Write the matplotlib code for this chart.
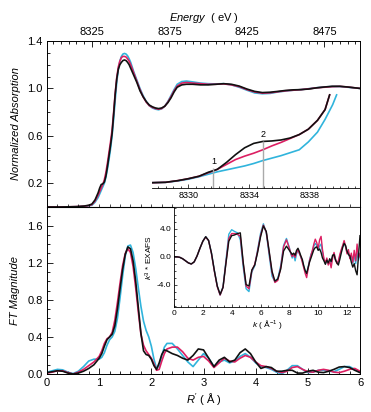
import numpy as np
import matplotlib
matplotlib.use('Agg')
import matplotlib.pyplot as plt
from matplotlib.ticker import MultipleLocator, FormatStrFormatter

plt.rcParams['font.family'] = ['Liberation Sans', 'DejaVu Sans']
plt.rcParams['mathtext.fontset'] = 'custom'
plt.rcParams['mathtext.rm'] = 'Liberation Sans'
plt.rcParams['mathtext.it'] = 'Liberation Sans:italic'

BLACK = '#111111'
PINK = '#dc1f62'
CYAN = '#30b4dc'

# ---- XANES (normalized absorption vs energy) ----
energy = [8296, 8305, 8315, 8320, 8323, 8325, 8327, 8329, 8330, 8331, 8332, 8333, 8334,
          8335, 8336, 8337, 8338, 8339, 8340, 8341, 8342, 8343, 8344, 8345, 8346, 8347,
          8348, 8349, 8350, 8352, 8354, 8356, 8358, 8360, 8362, 8364, 8366, 8368, 8370,
          8372, 8374, 8376, 8378, 8380, 8383, 8386, 8390, 8395, 8400, 8405, 8410, 8415,
          8420, 8425, 8430, 8435, 8440, 8445, 8450, 8455, 8460, 8465, 8470, 8475, 8480,
          8485, 8490, 8498]
xanes_black = [0.0, 0.0, 0.003, 0.008, 0.015, 0.025, 0.06, 0.12, 0.16, 0.19, 0.195, 0.21, 0.26,
               0.34, 0.43, 0.52, 0.62, 0.78, 0.95, 1.08, 1.16, 1.2, 1.22, 1.235, 1.24, 1.235,
               1.22, 1.2, 1.17, 1.11, 1.05, 0.98, 0.93, 0.89, 0.86, 0.845, 0.835, 0.83, 0.835,
               0.85, 0.88, 0.92, 0.97, 1.01, 1.03, 1.035, 1.035, 1.03, 1.03, 1.035, 1.04, 1.035,
               1.02, 0.995, 0.975, 0.965, 0.968, 0.975, 0.983, 0.988, 0.99, 0.995, 1.005, 1.012, 1.018,
               1.018, 1.012, 1.0]
xanes_pink = [0.0, 0.0, 0.003, 0.007, 0.012, 0.02, 0.05, 0.1, 0.13, 0.16, 0.19, 0.23, 0.29,
              0.37, 0.46, 0.55, 0.65, 0.8, 0.96, 1.09, 1.18, 1.23, 1.26, 1.27, 1.27, 1.265,
              1.25, 1.23, 1.2, 1.13, 1.06, 0.99, 0.93, 0.885, 0.855, 0.84, 0.83, 0.825, 0.83,
              0.85, 0.885, 0.93, 0.98, 1.02, 1.045, 1.05, 1.045, 1.04, 1.035, 1.035, 1.038, 1.03,
              1.015, 0.99, 0.97, 0.96, 0.963, 0.972, 0.98, 0.985, 0.99, 0.997, 1.005, 1.01, 1.015,
              1.017, 1.012, 1.0]
xanes_cyan = [0.0, 0.0, 0.002, 0.005, 0.01, 0.015, 0.04, 0.08, 0.11, 0.14, 0.17, 0.2, 0.25,
              0.32, 0.4, 0.49, 0.6, 0.74, 0.9, 1.05, 1.16, 1.23, 1.27, 1.29, 1.295, 1.29,
              1.275, 1.25, 1.22, 1.14, 1.07, 1.0, 0.94, 0.89, 0.855, 0.835, 0.825, 0.82, 0.828,
              0.85, 0.89, 0.94, 0.99, 1.035, 1.058, 1.062, 1.055, 1.045, 1.04, 1.038, 1.04, 1.03,
              1.01, 0.985, 0.962, 0.955, 0.958, 0.97, 0.978, 0.985, 0.99, 0.998, 1.006, 1.012, 1.016,
              1.016, 1.01, 1.0]

# ---- pre-edge inset ----
edge_e = [8327.6, 8328.5, 8329.3, 8330.0, 8330.7, 8331.3, 8331.9, 8332.5, 8333.1, 8333.7,
          8334.3, 8334.9, 8335.5, 8336.1, 8336.7, 8337.3, 8337.9, 8338.5, 8339.0, 8339.3]
edge_black = [0.054, 0.058, 0.075, 0.095, 0.12, 0.16, 0.19, 0.26, 0.34, 0.41,
              0.455, 0.475, 0.48, 0.49, 0.51, 0.545, 0.6, 0.69, 0.8, 0.95]
edge_pink = [0.054, 0.058, 0.075, 0.095, 0.12, 0.155, 0.19, 0.24, 0.29, 0.325,
             0.355, 0.39, 0.43, 0.465, 0.505, 0.545, 0.6, 0.69, 0.8, 0.95]
edge_e_cyan = [8327.6, 8328.5, 8329.3, 8330.0, 8330.7, 8331.3, 8331.9, 8332.5, 8333.1, 8333.7,
               8334.3, 8334.9, 8335.5, 8336.1, 8336.7, 8337.3, 8337.9, 8338.5, 8339.0, 8339.5, 8339.76]
edge_cyan = [0.054, 0.058, 0.072, 0.09, 0.115, 0.14, 0.165, 0.185, 0.205, 0.225,
             0.25, 0.28, 0.305, 0.33, 0.36, 0.39, 0.47, 0.57, 0.7, 0.85, 0.95]
feature_e = [8331.65, 8334.9]
feature_top = [0.2, 0.48]
feature_lbl = ['1', '2']

# ---- Fourier transform ----
r_vals = [0.0, 0.1, 0.2, 0.3, 0.4, 0.5, 0.6, 0.7, 0.8, 0.9, 1.0,
          1.05, 1.1, 1.15, 1.2, 1.25, 1.3, 1.35, 1.4, 1.45, 1.5, 1.55, 1.6, 1.65, 1.7,
          1.75, 1.8, 1.85, 1.9, 1.95, 2.0, 2.05, 2.1, 2.15, 2.2, 2.25, 2.3,
          2.4, 2.5, 2.6, 2.7, 2.8, 2.9, 3.0, 3.1, 3.2, 3.3, 3.4, 3.5, 3.6, 3.7, 3.8, 3.9,
          4.0, 4.1, 4.2, 4.3, 4.4, 4.5, 4.6, 4.7, 4.8, 4.9, 5.0, 5.1, 5.2, 5.3, 5.4, 5.5,
          5.6, 5.7, 5.8, 5.9, 6.0]
ft_black = [0.015, 0.025, 0.035, 0.03, 0.01, 0.0, 0.01, 0.03, 0.06, 0.1, 0.17,
            0.22, 0.3, 0.37, 0.4, 0.43, 0.52, 0.7, 0.92, 1.13, 1.29, 1.37, 1.35, 1.22, 1.0,
            0.72, 0.44, 0.25, 0.21, 0.2, 0.16, 0.09, 0.05, 0.12, 0.21, 0.26, 0.25,
            0.22, 0.2, 0.17, 0.15, 0.2, 0.27, 0.26, 0.17, 0.08, 0.15, 0.18, 0.13, 0.15, 0.23, 0.27, 0.22,
            0.13, 0.06, 0.08, 0.07, 0.03, 0.03, 0.04, 0.04, 0.01, 0.01, 0.03, 0.04, 0.02, 0.015, 0.03, 0.05,
            0.075, 0.08, 0.07, 0.04, 0.015]
ft_cyan = [0.02, 0.035, 0.05, 0.045, 0.02, 0.005, 0.03, 0.08, 0.14, 0.16, 0.16,
           0.18, 0.23, 0.31, 0.37, 0.4, 0.46, 0.6, 0.82, 1.06, 1.27, 1.38, 1.39, 1.31, 1.14,
           0.93, 0.73, 0.57, 0.47, 0.4, 0.3, 0.16, 0.06, 0.09, 0.2, 0.29, 0.33,
           0.33, 0.27, 0.2, 0.13, 0.08, 0.15, 0.22, 0.17, 0.08, 0.13, 0.15, 0.12, 0.14, 0.19, 0.22, 0.18,
           0.12, 0.08, 0.07, 0.05, 0.02, 0.0, 0.04, 0.09, 0.09, 0.05, 0.015, 0.02, 0.04, 0.04, 0.03, 0.025,
           0.05, 0.08, 0.08, 0.05, 0.02]
ft_pink = [0.01, 0.02, 0.035, 0.035, 0.015, 0.0, 0.02, 0.05, 0.09, 0.13, 0.19,
           0.25, 0.33, 0.38, 0.4, 0.45, 0.58, 0.77, 0.98, 1.17, 1.3, 1.35, 1.31, 1.16, 0.93,
           0.67, 0.43, 0.31, 0.25, 0.21, 0.17, 0.11, 0.04, 0.05, 0.14, 0.22, 0.27,
           0.29, 0.29, 0.24, 0.17, 0.15, 0.18, 0.19, 0.14, 0.07, 0.12, 0.17, 0.14, 0.13, 0.17, 0.2, 0.18,
           0.13, 0.09, 0.08, 0.06, 0.03, 0.015, 0.03, 0.07, 0.08, 0.05, 0.025, 0.02, 0.04, 0.05, 0.04, 0.02,
           0.015, 0.03, 0.05, 0.06, 0.03]

# ---- k^3 EXAFS inset ----
k_vals = list(np.round(np.arange(0, 8.01, 0.2), 2)) + list(np.round(np.arange(8.1, 12.91, 0.1), 2))
chi_black = [0.0, -0.02, -0.1, -0.3, -0.6, -0.9, -1.05, -0.75, 0.1, 1.2, 2.2, 2.85, 2.3, 0.5,
             -2.0, -4.2, -5.4, -4.4, -1.0, 2.2, 3.0, 3.1, 3.3, 3.4, -0.8, -4.0, -4.2, -1.9,
             -1.2, 0.6, 2.8, 4.4, 3.6, 0.8, -2.1, -3.5, -3.2, -1.8, 0.8, 1.5, 0.9,
             0.6, 0.3, 0.5, 0.2, 0.9, 1.2, 0.7, 0.1, -0.4, -1.3, -2.0, -2.4, -1.6, -0.8,
             -0.2, 0.4, 1.0, 1.3, 1.4, 0.9, 1.1, 0.6, -0.2, -0.6, -1.1, -0.5, -0.9, -0.3,
             -0.7, 0.2, 0.3, -0.5, -0.9, -1.2, -0.4, 0.5, 1.3, 1.9, 1.6, 0.8, 0.3, 0.1,
             -0.8, -1.5, -1.0, -2.0, -2.6, 0.2, 3.0]
chi_pink = [0.0, -0.02, -0.1, -0.3, -0.6, -0.9, -1.05, -0.75, 0.1, 1.2, 2.2, 2.8, 2.3, 0.4,
            -2.1, -4.3, -5.5, -4.4, -0.9, 2.6, 3.3, 3.3, 3.2, 2.9, -1.0, -4.2, -4.6, -2.0,
            -1.1, 0.8, 3.0, 4.5, 3.5, 0.6, -2.3, -3.7, -3.4, -1.6, 1.4, 2.4, 1.2,
            0.5, 0.0, 0.4, -0.1, 0.6, 1.0, 0.4, 0.0, -0.8, -1.6, -2.4, -3.0, -1.8, -0.6,
            0.2, 0.9, 1.8, 2.5, 2.0, 1.2, 2.4, 2.9, 1.0, -0.3, -0.9, -0.2, -1.2, -0.6,
            -1.6, -0.2, 0.6, -0.3, -1.0, -0.6, 0.3, 1.0, 1.6, 2.3, 1.5, 0.4, 1.0, -0.3,
            0.5, -0.8, 0.9, -0.6, 1.8, -0.2, 0.4]
chi_cyan = [0.0, -0.02, -0.1, -0.3, -0.6, -0.9, -1.05, -0.75, 0.1, 1.2, 2.2, 2.85, 2.3, 0.5,
            -2.0, -4.2, -5.5, -4.3, -0.6, 3.2, 3.85, 3.6, 3.4, 2.4, -1.5, -4.6, -5.0, -2.2,
            -1.3, 1.0, 3.3, 4.7, 3.4, 0.2, -2.8, -3.6, -3.1, -1.3, 1.6, 2.6, 1.3,
            0.4, -0.2, 0.3, -0.6, 0.4, 0.9, 0.5, -0.1, -0.6, -1.4, -2.1, -2.5, -1.5, -0.5,
            0.3, 0.8, 1.5, 1.9, 1.6, 1.0, 1.5, 1.8, 0.6, -0.4, -1.0, -0.4, -1.0, -0.5,
            -0.9, 0.0, 0.4, -0.4, -0.8, -0.9, 0.0, 0.8, 1.5, 2.0, 1.4, 0.6, 0.5, -0.2,
            0.2, -0.9, 0.3, -1.0, 0.6, -0.5, 0.5]

fig = plt.figure(figsize=(3.71, 4.12), dpi=100)
lw = 1.2
tick_kw = dict(direction='in', labelsize=8, width=0.6)

# top panel: XANES
ax1 = fig.add_axes([0.1267, 0.4976, 0.8437, 0.4029])
ax1.plot(energy, xanes_cyan, color=CYAN, lw=lw)
ax1.plot(energy, xanes_pink, color=PINK, lw=lw)
ax1.plot(energy, xanes_black, color=BLACK, lw=lw)
ax1.set_xlim(8296, 8498)
ax1.set_ylim(0, 1.4)
ax1.xaxis.tick_top()
ax1.xaxis.set_label_position('top')
ax1.set_xticks([8325, 8375, 8425, 8475])
ax1.xaxis.set_minor_locator(MultipleLocator(5))
ax1.set_yticks([0.2, 0.6, 1.0, 1.4])
ax1.yaxis.set_minor_locator(MultipleLocator(0.1))
ax1.tick_params(which='both', bottom=False, top=True, right=False, **tick_kw)
ax1.tick_params(which='major', length=4, pad=3)
ax1.tick_params(which='minor', length=2)
ax1.set_xlabel(r'$\mathit{Energy}$  ( eV )', fontsize=8, labelpad=4)
ax1.set_ylabel('Normalized Absorption', fontsize=8, style='italic', labelpad=5)
for s in ax1.spines.values():
    s.set_linewidth(0.7)

# inset: pre-edge region
axi = fig.add_axes([0.4097, 0.5437, 0.5606, 0.2379])
axi.patch.set_alpha(0)
axi.plot(edge_e_cyan, edge_cyan, color=CYAN, lw=lw)
axi.plot(edge_e, edge_pink, color=PINK, lw=lw)
axi.plot(edge_e, edge_black, color=BLACK, lw=lw)
axi.vlines(feature_e, 0, feature_top, color='#aaaaaa', lw=1.0)
for e, top, lbl in zip(feature_e, feature_top, feature_lbl):
    axi.text(e, top + 0.02, lbl, fontsize=6.5, ha='center', va='bottom')
axi.set_xlim(8327.6, 8341.3)
axi.set_ylim(0, 1.0)
for side in ['top', 'left', 'right']:
    axi.spines[side].set_visible(False)
axi.spines['bottom'].set_linewidth(0.6)
axi.set_yticks([])
axi.set_xticks([8330, 8334, 8338])
axi.xaxis.set_minor_locator(MultipleLocator(0.5))
axi.tick_params(which='both', direction='in', labelsize=6.5, width=0.5, pad=2)
axi.tick_params(which='major', length=3)
axi.tick_params(which='minor', length=1.5)

# bottom panel: FT
ax2 = fig.add_axes([0.1267, 0.0922, 0.8437, 0.4053])
ax2.plot(r_vals, ft_cyan, color=CYAN, lw=lw)
ax2.plot(r_vals, ft_pink, color=PINK, lw=lw)
ax2.plot(r_vals, ft_black, color=BLACK, lw=lw)
ax2.set_xlim(0, 6)
ax2.set_ylim(0, 1.8)
ax2.set_xticks(range(0, 7))
ax2.xaxis.set_minor_locator(MultipleLocator(0.2))
ax2.set_yticks([0.0, 0.4, 0.8, 1.2, 1.6])
ax2.yaxis.set_major_formatter(FormatStrFormatter('%.1f'))
ax2.yaxis.set_minor_locator(MultipleLocator(0.1))
ax2.tick_params(which='both', top=False, right=False, **tick_kw)
ax2.tick_params(which='major', length=4, pad=3)
ax2.tick_params(which='minor', length=2)
ax2.set_xlabel(r"$R'$ ( Å )", fontsize=8, labelpad=2)
ax2.set_ylabel('FT Magnitude', fontsize=8, style='italic', labelpad=5)
for s in ax2.spines.values():
    s.set_linewidth(0.7)
sec = ax2.secondary_xaxis('top')
sec.xaxis.set_major_locator(MultipleLocator(0.2))
sec.tick_params(direction='out', length=2, width=0.5, labeltop=False)

# inset: k^3 EXAFS
axk = fig.add_axes([0.469, 0.2549, 0.5013, 0.2427])
axk.plot(k_vals, chi_cyan, color=CYAN, lw=1.0)
axk.plot(k_vals, chi_pink, color=PINK, lw=1.0)
axk.plot(k_vals, chi_black, color=BLACK, lw=1.0)
axk.set_xlim(0, 12.9)
axk.set_ylim(-7.2, 7.1)
axk.set_xticks(range(0, 13, 2))
axk.xaxis.set_minor_locator(MultipleLocator(0.5))
axk.set_yticks([-4.0, 0.0, 4.0])
axk.yaxis.set_major_formatter(FormatStrFormatter('%.1f'))
axk.yaxis.set_minor_locator(MultipleLocator(1.0))
axk.tick_params(which='both', direction='in', labelsize=6, width=0.5, pad=2)
axk.tick_params(which='major', length=2.5)
axk.tick_params(which='minor', length=1.5)
axk.set_xlabel(r'$k$ ( Å$^{-1}$ )', fontsize=6, labelpad=1)
axk.set_ylabel(r'$k^3$ * EXAFS', fontsize=6, labelpad=1)
for s in axk.spines.values():
    s.set_linewidth(0.6)

plt.savefig('out.png', dpi=100)
